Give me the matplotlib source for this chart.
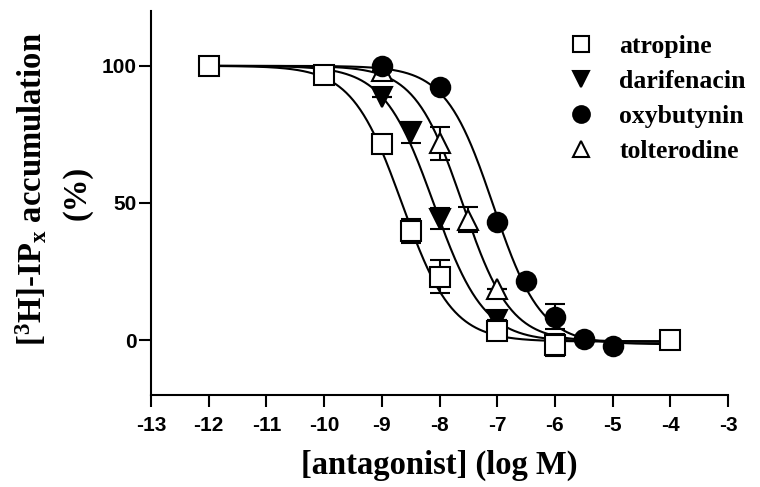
import numpy as np
import matplotlib
matplotlib.use("Agg")
import matplotlib.pyplot as plt
from matplotlib.lines import Line2D

plt.rcParams['axes.unicode_minus'] = False
plt.rcParams['mathtext.fontset'] = 'custom'
plt.rcParams['mathtext.rm'] = 'Liberation Serif:bold'
plt.rcParams['mathtext.it'] = 'Liberation Serif:bold'
plt.rcParams['mathtext.bf'] = 'Liberation Serif:bold'

# measured points (log M, % accumulation, SEM)
atropine_x = [-12, -10, -9, -8.5, -8, -7, -6, -4]
atropine_y = [100, 96.6, 71.5, 39.7, 23.1, 3.3, -1.7, 0.1]
atropine_err = [0, 0, 0, 4.4, 6.0, 0, 4.0, 0]

darifenacin_x = [-9, -8.5, -8, -7]
darifenacin_y = [88.6, 75.8, 44.3, 7.5]
darifenacin_err = [0, 3.9, 3.9, 0]

oxybutynin_x = [-9, -8, -7, -6.5, -6, -5.5, -5]
oxybutynin_y = [100, 92.2, 43.0, 21.4, 8.6, 0.3, -2.2]
oxybutynin_err = [0, 0, 0, 0, 4.4, 0, 0]

tolterodine_x = [-9, -8, -7.5, -7]
tolterodine_y = [98.3, 71.7, 43.9, 18.8]
tolterodine_err = [0, 5.9, 4.5, 0]

# fitted sigmoid parameters: top, bottom, logIC50, hill slope
fit_params = {
    'atropine': [100, -0.5, -8.65, 1.0],
    'darifenacin': [100, -0.5, -8.1, 1.0],
    'oxybutynin': [100, -1.5, -7.07, 1.05],
    'tolterodine': [100, -0.5, -7.6, 1.05],
}

names = ['atropine', 'darifenacin', 'oxybutynin', 'tolterodine']
markers = {'atropine': 's', 'darifenacin': 'v', 'oxybutynin': 'o', 'tolterodine': '^'}
faces = {'atropine': 'white', 'darifenacin': 'black', 'oxybutynin': 'black', 'tolterodine': 'white'}
data = {
    'atropine': (atropine_x, atropine_y, atropine_err),
    'darifenacin': (darifenacin_x, darifenacin_y, darifenacin_err),
    'oxybutynin': (oxybutynin_x, oxybutynin_y, oxybutynin_err),
    'tolterodine': (tolterodine_x, tolterodine_y, tolterodine_err),
}
zorders = {'tolterodine': 3, 'darifenacin': 4, 'oxybutynin': 5, 'atropine': 6}


def sigmoid(x, top, bottom, logic50, hill):
    return bottom + (top - bottom) / (1 + 10 ** ((x - logic50) * hill))


fig = plt.figure(figsize=(7.6, 4.87), dpi=100)
ax = fig.add_axes([151 / 760, 1 - 395 / 487, (728 - 151) / 760, (395 - 11) / 487])

xs = np.linspace(-12, -4, 400)
for name in names:
    ax.plot(xs, sigmoid(xs, *fit_params[name]), color='black', lw=1.5, zorder=2)

for name in names:
    x, y, e = data[name]
    ax.errorbar(x, y, yerr=e, fmt='none', ecolor='black', elinewidth=1.5,
                capsize=7.5, capthick=1.5, zorder=zorders[name] - 0.5)
    ax.plot(x, y, linestyle='none', marker=markers[name], markersize=14,
            markerfacecolor=faces[name], markeredgecolor='black',
            markeredgewidth=1.5, zorder=zorders[name])

ax.set_xlim(-13, -3)
ax.set_ylim(-20, 120)
ax.set_xticks(np.arange(-13, -2, 1))
ax.set_yticks([0, 50, 100])
ax.spines['top'].set_visible(False)
ax.spines['right'].set_visible(False)
for s in ['left', 'bottom']:
    ax.spines[s].set_linewidth(1.5)
ax.tick_params(width=1.5, length=8.5, labelsize=15)
ax.tick_params(axis='x', pad=6.5)
ax.tick_params(axis='y', pad=2)
for lab in ax.get_xticklabels() + ax.get_yticklabels():
    lab.set_fontfamily('Liberation Sans')
    lab.set_fontweight('bold')

label_font = dict(fontfamily='Liberation Serif', fontweight='bold', fontsize=23.5)
fig.text(439 / 760, 1 - 465 / 487, '[antagonist] (log M)', ha='center', va='center',
         **label_font)
fig.text(32 / 760, 1 - 189 / 487, r'[$^{3}$H]-IP$_{\mathrm{x}}$ accumulation',
         rotation=90, ha='center', va='center', **label_font)
fig.text(77 / 760, 1 - 193 / 487, '(%)', rotation=90, ha='center', va='center',
         **label_font)

handles = [Line2D([], [], linestyle='none', marker=markers[n], markersize=12,
                  markerfacecolor=faces[n], markeredgecolor='black',
                  markeredgewidth=1.5) for n in names]
ax.legend(handles, names, loc='upper left', bbox_to_anchor=(568 / 760, 1 - 35 / 487),
          bbox_transform=fig.transFigure, frameon=False, borderpad=0, borderaxespad=0,
          handlelength=1.0, handletextpad=1.0, labelspacing=0.47,
          prop={'family': 'Liberation Serif', 'weight': 'bold', 'size': 18.5})

fig.savefig('out.png', dpi=100)
